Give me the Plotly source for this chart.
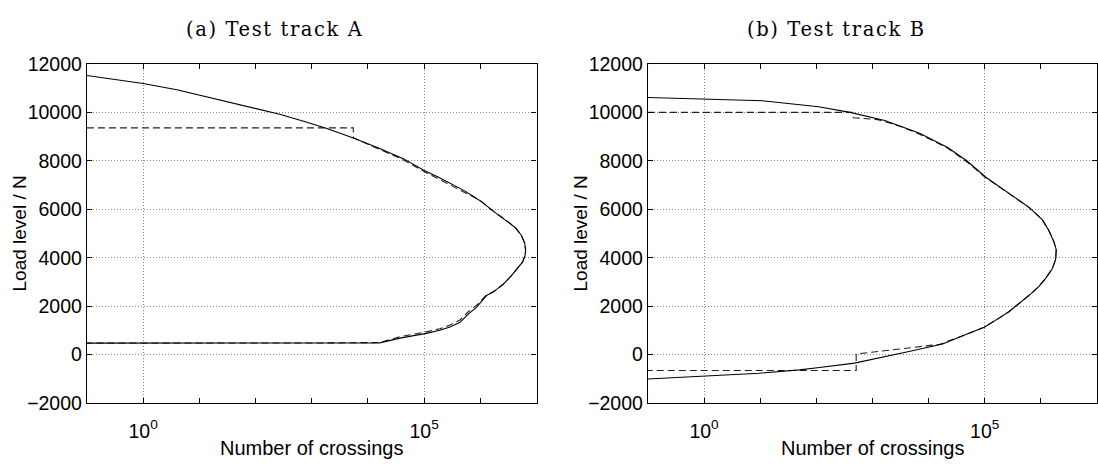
import numpy as np
import plotly.graph_objects as go

# ---- data: log10(number of crossings) and load level in N ----
# Test track A
a_model_log_n = [-1.0, 0.0, 0.6, 1.25, 1.85, 2.43, 2.9, 3.27, 3.74, 4.2, 4.63, 5.01,
                 5.25, 5.46, 5.72, 5.88, 6.02, 6.23, 6.47, 6.62, 6.73, 6.79, 6.806,
                 6.795, 6.75, 6.66, 6.55, 6.41, 6.23, 6.11, 6.04, 5.93, 5.78, 5.64,
                 5.46, 5.28, 5.04, 4.57, 4.21, 3.0, 1.0, -1.0]
a_model_load = [11520, 11190, 10930, 10580, 10240, 9920, 9600, 9330, 8940, 8520, 8090,
                7590, 7330, 7080, 6760, 6530, 6316, 5923, 5530, 5250, 4930, 4600, 4300,
                4080, 3820, 3550, 3250, 2907, 2581, 2440, 2250, 1950, 1665, 1334, 1138,
                1008, 878, 682, 485, 480, 475, 475]

a_meas_log_n = [-1.0, 3.74, 3.74, 4.2, 4.63, 5.0, 5.3, 5.5, 5.75, 5.9, 6.02, 6.23, 6.47,
                6.62, 6.73, 6.79, 6.806, 6.795, 6.75, 6.66, 6.55, 6.41, 6.23, 6.11, 6.04,
                5.93, 5.78, 5.64, 5.46, 5.28, 5.04, 4.8, 4.57, 4.35, 4.21, 3.0, -1.0]
a_meas_load = [9358, 9358, 8950, 8480, 8040, 7560, 7200, 6980, 6690, 6480, 6316, 5923,
               5530, 5250, 4930, 4600, 4300, 4080, 3820, 3550, 3250, 2907, 2600, 2470,
               2300, 2030, 1760, 1430, 1220, 1070, 940, 840, 740, 590, 500, 480, 480]

# Test track B
b_model_log_n = [-1.0, 0.0, 1.04, 2.04, 2.6, 3.22, 3.84, 4.34, 4.68, 5.02, 5.43, 5.79,
                 6.025, 6.144, 6.233, 6.274, 6.263, 6.203, 6.085, 5.966, 5.847, 5.61,
                 5.43, 5.255, 4.99, 4.62, 4.25, 3.65, 3.18, 2.68, 2.02, 1.7, 0.98, 0.0,
                 -1.0]
b_model_load = [10610, 10557, 10479, 10230, 10000, 9666, 9141, 8551, 8000, 7320, 6650,
                6080, 5574, 5115, 4656, 4328, 3934, 3541, 3148, 2820, 2557, 2098, 1770,
                1508, 1130, 790, 440, 131, -105, -350, -540, -630, -766, -898, -1003]

b_meas_log_n = [-1.0, 2.64, 2.66, 3.1, 3.5, 3.84, 4.34, 4.68, 5.02, 5.43, 5.79, 6.025,
                6.144, 6.233, 6.274, 6.263, 6.203, 6.085, 5.966, 5.847, 5.61, 5.43,
                5.255, 4.99, 4.62, 4.2, 3.5, 2.71, 2.71, -1.0]
b_meas_load = [10000, 10000, 9780, 9700, 9420, 9100, 8520, 7960, 7300, 6640, 6070, 5574,
               5115, 4656, 4328, 3934, 3541, 3148, 2820, 2557, 2098, 1770, 1508, 1130,
               790, 430, 236, 26, -656, -656]

panel_titles = ["(a) Test track A", "(b) Test track B"]
y_ticks = [-2000, 0, 2000, 4000, 6000, 8000, 10000, 12000]
y_tick_text = ["\u22122000", "0", "2000", "4000", "6000", "8000", "10000", "12000"]
x_label_vals = [1, 1e5]
x_label_text = ["10<sup>0</sup>", "10<sup>5</sup>"]
x_decades = [10.0 ** k for k in range(-1, 8)]

W, H = 1098, 467
sans = "Liberation Sans, Arial, sans-serif"
serif = "DejaVu Serif, serif"

fig = go.Figure()

panels = [
    (a_model_log_n, a_model_load, a_meas_log_n, a_meas_load, "x", "y"),
    (b_model_log_n, b_model_load, b_meas_log_n, b_meas_load, "x2", "y2"),
]
for mx, my, dx, dy, xa, ya in panels:
    fig.add_trace(go.Scatter(x=10.0 ** np.array(dx), y=dy, mode="lines",
                             line=dict(color="#222", width=1.1, dash="7px,4px"),
                             xaxis=xa, yaxis=ya, showlegend=False, hoverinfo="skip"))
    fig.add_trace(go.Scatter(x=10.0 ** np.array(mx), y=my, mode="lines",
                             line=dict(color="black", width=1.1),
                             xaxis=xa, yaxis=ya, showlegend=False, hoverinfo="skip"))

# plot-area placement in pixels
left_px = [(87, 537), (648.5, 1098)]
top_px, bottom_px = 55.5, 411.5
ydom = [(H - bottom_px) / H, (H - top_px) / H]

def xaxis_cfg(dom):
    return dict(
        type="log", range=[-1, 7], domain=dom,
        tickmode="array", tickvals=x_label_vals, ticktext=x_label_text,
        ticks="inside", ticklen=5, tickwidth=1, tickcolor="black",
        ticklabelstandoff=10,
        showgrid=True, gridcolor="#888", griddash="1px,2px", gridwidth=1,
        showline=True, linecolor="black", linewidth=1.2, mirror="ticks",
        zeroline=False,
        minor=dict(tickmode="array", tickvals=x_decades, ticks="inside", ticklen=5,
                   tickwidth=1, tickcolor="black", showgrid=False),
        tickfont=dict(family=sans, size=19.5, color="black"),
    )

def yaxis_cfg(anchor):
    return dict(
        range=[-2000, 12000], domain=ydom, anchor=anchor,
        tickmode="array", tickvals=y_ticks, ticktext=y_tick_text,
        ticks="inside", ticklen=5, tickwidth=1, tickcolor="black",
        showgrid=True, gridcolor="#888", griddash="1px,2px", gridwidth=1,
        showline=True, linecolor="black", linewidth=1.2, mirror="ticks",
        zeroline=False,
        tickfont=dict(family=sans, size=19.5, color="black"),
    )

fig.update_layout(
    width=W, height=H,
    margin=dict(l=0, r=0, t=0, b=0),
    paper_bgcolor="white", plot_bgcolor="white",
    xaxis=xaxis_cfg([left_px[0][0] / W, left_px[0][1] / W]) | dict(anchor="y"),
    yaxis=yaxis_cfg("x"),
    xaxis2=xaxis_cfg([left_px[1][0] / W, left_px[1][1] / W]) | dict(anchor="y2"),
    yaxis2=yaxis_cfg("x2"),
)

annotations = []
for (x0, x1), title in zip(left_px, panel_titles):
    annotations.append(dict(text='<span style="letter-spacing:1.6px">' + title + "</span>",
                            x=(x0 + 188.5) / W, y=(H - 19) / H,
                            xref="paper", yref="paper", xanchor="center",
                            yanchor="middle", showarrow=False,
                            font=dict(family=serif, size=19.5, color="black")))
    annotations.append(dict(text="Number of crossings", x=(x0 + x1) / 2 / W,
                            y=(H - 459) / H, xref="paper", yref="paper",
                            xanchor="center", yanchor="middle", showarrow=False,
                            font=dict(family=sans, size=20, color="black")))
    annotations.append(dict(text="Load level / N", x=(x0 - 67) / W,
                            y=(H - (top_px + bottom_px) / 2) / H,
                            xref="paper", yref="paper", xanchor="center",
                            yanchor="middle", textangle=-90, showarrow=False,
                            font=dict(family=sans, size=19, color="black")))
fig.update_layout(annotations=annotations)

fig.write_html("out.html")
